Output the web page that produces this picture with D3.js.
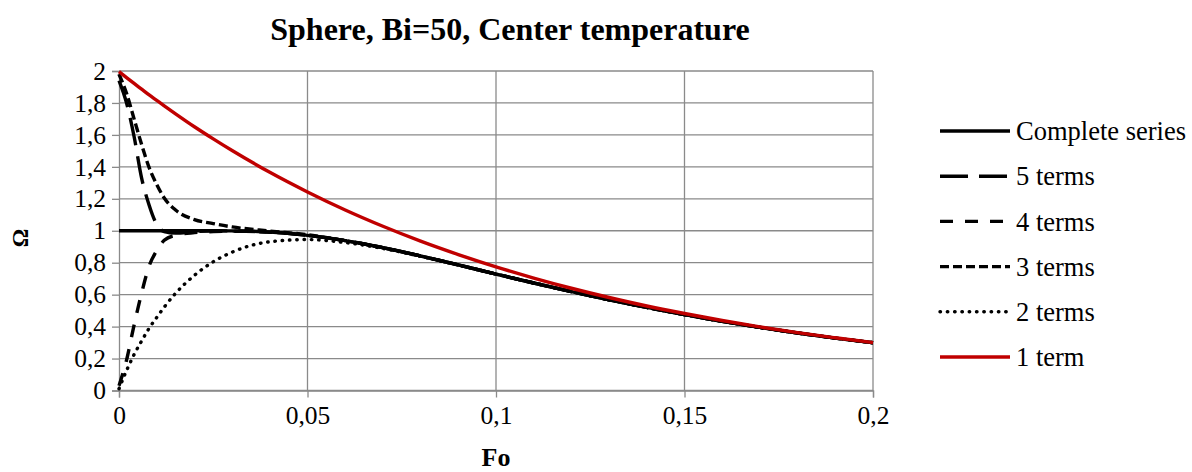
<!DOCTYPE html>
<html>
<head>
<meta charset="utf-8">
<script src="https://cdn.jsdelivr.net/npm/d3@7"></script>
<style>
  body { margin: 0; background: #fff; }
  text { font-family: "Times New Roman", "Liberation Serif", serif; fill: #000; }
</style>
</head>
<body>
<div id="chart"></div>
<script>
// Fo values (x) and the centre temperature
const fo = [0, 0.002, 0.004, 0.006, 0.008, 0.01, 0.012, 0.015, 0.02, 0.025, 0.03, 0.04, 0.05,
    0.06, 0.07, 0.08, 0.09, 0.1, 0.11, 0.12, 0.13, 0.14, 0.15, 0.16, 0.17, 0.18, 0.19, 0.2];

const complete = [1, 1, 1, 1, 1, 1, 1, 1, 1, 1, 0.999, 0.992, 0.971,
    0.938, 0.894, 0.842, 0.786, 0.729, 0.673, 0.619, 0.568, 0.520, 0.475, 0.433, 0.395, 0.360, 0.328, 0.299];
const terms5 = [1.94, 1.80, 1.59, 1.33, 1.16, 1.04, 0.995, 0.985, 0.995, 1.0, 0.999, 0.992, 0.971,
    0.938, 0.894, 0.842, 0.786, 0.729, 0.673, 0.619, 0.568, 0.520, 0.475, 0.433, 0.395, 0.360, 0.328, 0.299];
const terms4 = [0.03, 0.19, 0.41, 0.61, 0.78, 0.875, 0.94, 0.972, 0.988, 0.995, 0.997, 0.991, 0.971,
    0.938, 0.894, 0.842, 0.786, 0.729, 0.673, 0.619, 0.568, 0.520, 0.475, 0.433, 0.395, 0.360, 0.328, 0.299];
const terms3 = [1.98, 1.86, 1.70, 1.54, 1.395, 1.29, 1.205, 1.13, 1.07, 1.045, 1.024, 0.998, 0.975,
    0.938, 0.894, 0.842, 0.786, 0.729, 0.673, 0.619, 0.568, 0.520, 0.475, 0.433, 0.395, 0.360, 0.328, 0.299];
const terms2 = [0.011, 0.125, 0.225, 0.31, 0.39, 0.457, 0.522, 0.608, 0.721, 0.806, 0.866, 0.931, 0.945,
    0.926, 0.889, 0.840, 0.785, 0.729, 0.673, 0.619, 0.568, 0.520, 0.475, 0.433, 0.395, 0.360, 0.328, 0.299];
const term1 = [1.996, 1.959, 1.922, 1.886, 1.850, 1.816, 1.782, 1.732, 1.651, 1.575, 1.502, 1.366, 1.243,
    1.130, 1.028, 0.935, 0.851, 0.774, 0.704, 0.640, 0.582, 0.529, 0.482, 0.438, 0.398, 0.362, 0.330, 0.300];

const seriesNames = ["Complete series", "5 terms", "4 terms", "3 terms", "2 terms", "1 term"];
const xTicks = [0, 0.05, 0.1, 0.15, 0.2];
const yTicks = [0, 0.2, 0.4, 0.6, 0.8, 1, 1.2, 1.4, 1.6, 1.8, 2];

const W = 1192, H = 472;
const plot = { left: 119, right: 873, top: 71, bottom: 390.5 };

const series = [
    { name: seriesNames[0], values: complete, color: "#000", dash: null, cap: "butt" },
    { name: seriesNames[1], values: terms5, color: "#000", dash: "28,11", cap: "butt" },
    { name: seriesNames[2], values: terms4, color: "#000", dash: "13,12", cap: "butt" },
    { name: seriesNames[3], values: terms3, color: "#000", dash: "9,4", cap: "butt" },
    { name: seriesNames[4], values: terms2, color: "#000", dash: "0.5,6.8", cap: "round" },
    { name: seriesNames[5], values: term1, color: "#C00000", dash: null, cap: "butt" }
];

const fmt = d => String(d).replace(".", ",");

const svg = d3.select("#chart")
    .append("svg")
    .attr("width", W)
    .attr("height", H)
    .style("background", "#fff");

const x = d3.scaleLinear().domain([0, 0.2]).range([plot.left, plot.right]);
const y = d3.scaleLinear().domain([0, 2]).range([plot.bottom, plot.top]);

// grid
svg.append("g")
    .selectAll("line.h")
    .data(yTicks)
    .enter()
    .append("line")
    .attr("x1", plot.left).attr("x2", plot.right)
    .attr("y1", d => y(d)).attr("y2", d => y(d))
    .style("stroke", "#8a8a8a").style("stroke-width", 1.3);

svg.append("g")
    .selectAll("line.v")
    .data(xTicks.slice(1))
    .enter()
    .append("line")
    .attr("x1", d => x(d)).attr("x2", d => x(d))
    .attr("y1", plot.top).attr("y2", plot.bottom)
    .style("stroke", "#8a8a8a").style("stroke-width", 1.3);

// axes
const xAxis = svg.append("g")
    .attr("transform", `translate(0, ${plot.bottom})`)
    .call(d3.axisBottom(x).tickValues(xTicks).tickSize(7).tickPadding(8).tickFormat(fmt));
const yAxis = svg.append("g")
    .attr("transform", `translate(${plot.left}, 0)`)
    .call(d3.axisLeft(y).tickValues(yTicks).tickSize(7).tickPadding(6).tickFormat(fmt));

[xAxis, yAxis].forEach(a => {
    a.select(".domain").style("stroke", "#8a8a8a").style("stroke-width", 1.3);
    a.selectAll(".tick line").style("stroke", "#8a8a8a").style("stroke-width", 1.3);
    a.selectAll("text")
        .style("font-family", "'Times New Roman', 'Liberation Serif', serif")
        .style("font-size", "25.5px")
        .style("fill", "#000");
});

// curves
const line = d3.line()
    .x((d, i) => x(fo[i]))
    .y(d => y(d))
    .curve(d3.curveMonotoneX);

svg.append("g")
    .selectAll("path.series")
    .data(series)
    .enter()
    .append("path")
    .attr("d", d => line(d.values))
    .style("fill", "none")
    .style("stroke", d => d.color)
    .style("stroke-width", 3.4)
    .style("stroke-linecap", d => d.cap)
    .style("stroke-dasharray", d => d.dash);

// legend
const legend = svg.append("g");
const rows = legend.selectAll("g")
    .data(series)
    .enter()
    .append("g")
    .attr("transform", (d, i) => `translate(940, ${131 + i * 45.2})`);

rows.append("line")
    .attr("x1", 0).attr("x2", 70)
    .style("stroke", d => d.color)
    .style("stroke-width", 3.4)
    .style("stroke-linecap", d => d.cap)
    .style("stroke-dasharray", d => d.dash);

rows.append("text")
    .attr("x", 76)
    .attr("dy", "0.35em")
    .style("font-size", "26.5px")
    .text(d => d.name);

// titles
svg.append("text")
    .attr("x", 510).attr("y", 40)
    .attr("text-anchor", "middle")
    .style("font-size", "32px")
    .style("font-weight", "bold")
    .text("Sphere, Bi=50, Center temperature");

svg.append("text")
    .attr("x", 496).attr("y", 466)
    .attr("text-anchor", "middle")
    .style("font-size", "26px")
    .style("font-weight", "bold")
    .text("Fo");

svg.append("text")
    .attr("transform", "translate(20, 238) rotate(-90)")
    .attr("text-anchor", "middle")
    .attr("dy", "0.35em")
    .style("font-size", "23px")
    .style("font-weight", "bold")
    .text("Ω");
</script>
</body>
</html>
